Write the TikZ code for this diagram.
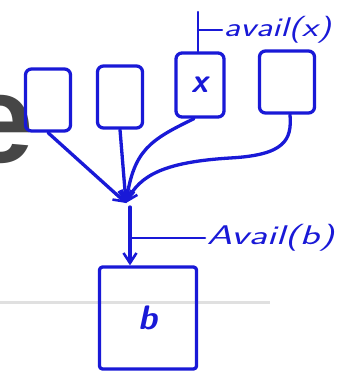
\documentclass[tikz,border=0pt]{standalone}
\usepackage{fontspec}
\newfontfamily\slidefont{Liberation Sans}
\usetikzlibrary{arrows.meta}
\definecolor{pen}{RGB}{25,25,215}
\definecolor{slidegray}{RGB}{70,70,70}
\tikzset{
  ink/.style={draw=pen, line width=3.3pt, line cap=round, line join=round},
  blk/.style={ink, rounded corners=6pt, inner sep=0pt, text=pen, font=\sffamily\itshape\bfseries\fontsize{34}{34}\selectfont},
  arr/.style={ink, -{Straight Barb[length=10pt,width=13pt,line width=2.6pt]}},
  lbl/.style={text=pen, font=\sffamily\itshape\fontsize{27}{27}\selectfont, inner sep=1pt}
}
\begin{document}
\begin{tikzpicture}[x=1pt,y=1pt]
\useasboundingbox (0,0) rectangle (348,-375);
\fill[white] (0,0) rectangle (348,-375);
% slide remnants
\node[text=slidegray, font=\slidefont\bfseries\fontsize{125}{125}\selectfont, inner sep=0pt, anchor=base] (e) at (-1,-162) {e};
\draw[line width=3pt, draw=black!12] (0,-302) -- (270,-302);
% boxes
\node[blk, minimum width=45pt, minimum height=62pt] (b1) at (48,-100) {};
\node[blk, minimum width=45pt, minimum height=62pt] (b2) at (120,-97) {};
\node[blk, minimum width=48pt, minimum height=64pt] (bx) at (200,-85) {x};
\node[blk, minimum width=55pt, minimum height=62pt] (b4) at (287,-82) {};
\node[blk, rounded corners=3pt, minimum width=97pt, minimum height=102pt] (bb) at (148,-318) {b};
% junction
\coordinate (j) at (130,-207);
\coordinate (jt) at (126,-203);
\coordinate (m) at (130,-238);
% labels
\node[lbl, anchor=west, xscale=1.35] (ax) at (222,-30) {avail(x)};
\node[lbl, anchor=west, xscale=1.5] (ab) at (205,-238) {Avail(b)};
\coordinate (t1) at (198,-12);
\coordinate (t2) at (198,-30);
\draw[ink, line width=2.4pt] (t1) -- (bx.north -| t1);
\draw[ink, line width=2.4pt] (t2) -- (ax.west);
% connectors
\draw[arr] (b1.south) -- (jt);
\draw[arr] (b2.south) -- (jt);
\draw[arr] ([xshift=-6pt]bx.south) .. controls (150,-140) and (134,-150) .. (jt);
\draw[arr] ([xshift=3pt]b4.south) .. controls (292,-140) and (285,-155) .. (230,-158) .. controls (165,-162) and (140,-175) .. (jt);
\draw[arr] (j) -- (bb.north -| j);
\draw[ink, line width=2.6pt] (m) -- (ab.west);
\end{tikzpicture}
\end{document}
